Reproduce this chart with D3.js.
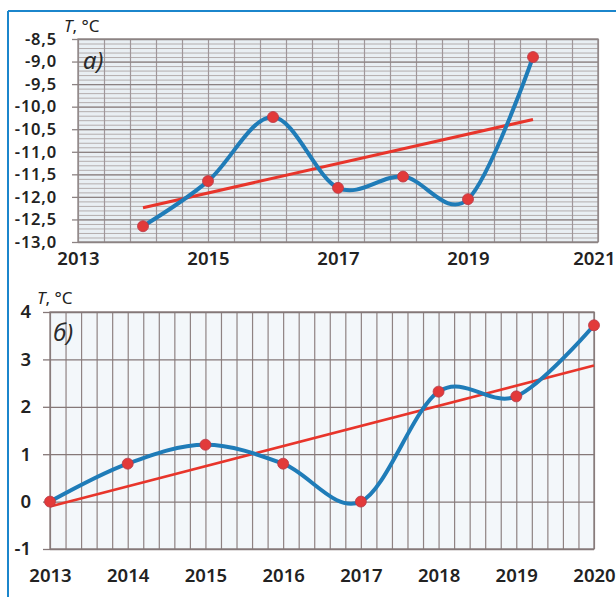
<!DOCTYPE html>
<html><head><meta charset="utf-8">
<script src="https://cdn.jsdelivr.net/npm/d3@7"></script>
<style>
html,body{margin:0;padding:0;background:#fff;}
svg{display:block;}
text{font-family:"Noto Sans",sans-serif;}
</style></head>
<body>
<script>
// ---- data ----
const yearsA = [2014, 2015, 2016, 2017, 2018, 2019, 2020];
const tempA  = [-12.65, -11.65, -10.23, -11.8, -11.55, -12.05, -8.9];
const xTicksA = [2013, 2015, 2017, 2019, 2021];
const yTicksA = [-13.0, -12.5, -12.0, -11.5, -11.0, -10.5, -10.0, -9.5, -9.0, -8.5];

const yearsB = [2013, 2014, 2015, 2016, 2017, 2018, 2019, 2020];
const tempB  = [0, 0.8, 1.2, 0.8, 0, 2.32, 2.22, 3.72];
const xTicksB = [2013, 2014, 2015, 2016, 2017, 2018, 2019, 2020];
const yTicksB = [-1, 0, 1, 2, 3, 4];

const W = 616, H = 597;
const svg = d3.select("body").append("svg").attr("width", W).attr("height", H);

// frame
svg.append("line").attr("x1",8).attr("x2",W).attr("y1",11).attr("y2",11).attr("stroke","#1b86cc").attr("stroke-width",2);
svg.append("line").attr("x1",8).attr("x2",8).attr("y1",11).attr("y2",H).attr("stroke","#1b86cc").attr("stroke-width",2);

function linreg(xs, ys){
  const n = xs.length, mx = d3.mean(xs), my = d3.mean(ys);
  let sxy = 0, sxx = 0;
  for (let i=0;i<n;i++){ sxy += (xs[i]-mx)*(ys[i]-my); sxx += (xs[i]-mx)*(xs[i]-mx); }
  const b = sxy/sxx, a = my - b*mx;
  return x => a + b*x;
}
const fmtComma = v => d3.format(".1f")(v).replace(".", ",").replace("−","-");
const fmtInt = v => d3.format("d")(v).replace("−","-");

function drawChart(cfg){
  const g = svg.append("g");
  const x = d3.scaleLinear().domain(cfg.xDom).range(cfg.xRange);
  const y = d3.scaleLinear().domain(cfg.yDom).range(cfg.yRange);
  const [x0,x1] = cfg.xRange, [y1,y0] = cfg.yRange;
  g.append("rect").attr("x",x0).attr("y",y0).attr("width",x1-x0).attr("height",y1-y0).attr("fill",cfg.bg);

  if (cfg.yMinor){
    g.append("g").attr("transform",`translate(${x0},0)`)
      .call(d3.axisLeft(y).tickValues(cfg.yMinor).tickSize(-(x1-x0)).tickFormat(""))
      .call(s=>s.select(".domain").remove())
      .call(s=>s.selectAll("line").attr("stroke",cfg.minorColor).attr("stroke-width",1));
  }
  g.append("g").attr("transform",`translate(0,${y1})`)
    .call(d3.axisBottom(x).tickValues(cfg.xGrid).tickSize(-(y1-y0)).tickFormat(""))
    .call(s=>s.select(".domain").remove())
    .call(s=>s.selectAll("line").attr("stroke",cfg.vColor).attr("stroke-width",1.2));
  g.append("g").attr("transform",`translate(${x0},0)`)
    .call(d3.axisLeft(y).tickValues(cfg.yTicks).tickSize(-(x1-x0)).tickFormat(""))
    .call(s=>s.select(".domain").remove())
    .call(s=>s.selectAll("line").attr("stroke",cfg.majorColor).attr("stroke-width",1.3));
  g.append("g").attr("transform",`translate(${x0},0)`)
    .call(d3.axisLeft(y).tickValues(cfg.yTicks).tickSize(cfg.tickLen).tickPadding(cfg.yPad).tickFormat(cfg.yFmt))
    .call(s=>s.select(".domain").remove())
    .call(s=>s.selectAll("line").attr("stroke",cfg.majorColor).attr("stroke-width",1.3))
    .call(s=>s.selectAll("text").attr("font-size",cfg.yfs).attr("font-weight",600)
      .attr("letter-spacing",cfg.yLs).attr("fill","#222").attr("font-family","Noto Sans"));
  g.append("g").attr("transform",`translate(0,${y1})`)
    .call(d3.axisBottom(x).tickValues(cfg.xTicks).tickSize(0).tickPadding(cfg.xPad).tickFormat(d3.format("d")))
    .call(s=>s.select(".domain").remove())
    .call(s=>s.selectAll("text").attr("font-size",cfg.fs).attr("font-weight",600).attr("fill","#222").attr("font-family","Noto Sans"))
    .call(s=>s.selectAll(".tick text").filter(d=>x(d)+22>W).attr("text-anchor","end").attr("dx",W-1-x(cfg.xTicks[cfg.xTicks.length-1])));
  g.append("rect").attr("x",x0).attr("y",y0).attr("width",x1-x0).attr("height",y1-y0)
    .attr("fill","none").attr("stroke",cfg.majorColor).attr("stroke-width",1.3);

  const f = linreg(cfg.xs, cfg.ys);
  const xe = d3.extent(cfg.xs);
  g.append("path").datum(xe)
    .attr("d", d3.line().x(d=>x(d)).y(d=>y(f(d))))
    .attr("stroke","#e8352b").attr("stroke-width",cfg.trendW).attr("fill","none");
  const pts = cfg.xs.map((v,i)=>[v,cfg.ys[i]]);
  g.append("path").datum(pts)
    .attr("d", d3.line().x(d=>x(d[0])).y(d=>y(d[1])).curve(d3.curveCardinal.tension(0)))
    .attr("stroke","#1f7cb8").attr("stroke-width",4).attr("fill","none").attr("stroke-linecap","round");
  g.append("g").selectAll("circle").data(pts).join("circle")
    .attr("cx",d=>x(d[0])).attr("cy",d=>y(d[1])).attr("r",5.5)
    .attr("fill","#e23a3a").attr("stroke","#b93a48").attr("stroke-width",0.8);

  const t = g.append("text").attr("x",cfg.tPos[0]).attr("y",cfg.tPos[1]).attr("font-size",17).attr("fill","#222");
  t.append("tspan").attr("font-style","italic").text("T");
  t.append("tspan").text(", °C");
  g.append("text").attr("x",cfg.lPos[0]).attr("y",cfg.lPos[1]).attr("font-size",24)
    .attr("font-style","italic").attr("fill","#2a2a2a").text(cfg.letter);
}

drawChart({
  xDom:[2013,2021], xRange:[78,598], yDom:[-13,-8.5], yRange:[242,39],
  bg:"#e9eff3",
  yMinor: d3.range(0,46).map(i=>-13+i*0.1),
  minorColor:"#b3adad", vColor:"#a0979a", majorColor:"#8c8383",
  xGrid: d3.range(0,21).map(i=>2013+i*0.4),
  yTicks:yTicksA, xTicks:xTicksA, yFmt:fmtComma, tickLen:6, yPad:15, xPad:10,
  fs:18.5, yfs:16.5, yLs:0.8, trendW:3,
  xs:yearsA, ys:tempA, tPos:[64,32], lPos:[83,69], letter:"а)"
});
drawChart({
  xDom:[2013,2020], xRange:[50,594], yDom:[-1,4], yRange:[549,312],
  bg:"#f3f7fa",
  yMinor:null, minorColor:"#999", vColor:"#8f8383", majorColor:"#857878",
  xGrid: d3.range(0,36).map(i=>2013+i*0.2),
  yTicks:yTicksB, xTicks:xTicksB, yFmt:fmtInt, tickLen:7, yPad:12, xPad:20,
  fs:18.5, yfs:18.5, yLs:0, trendW:2.6,
  xs:yearsB, ys:tempB, tPos:[37,304], lPos:[53,341], letter:"б)"
});
</script>
</body></html>
